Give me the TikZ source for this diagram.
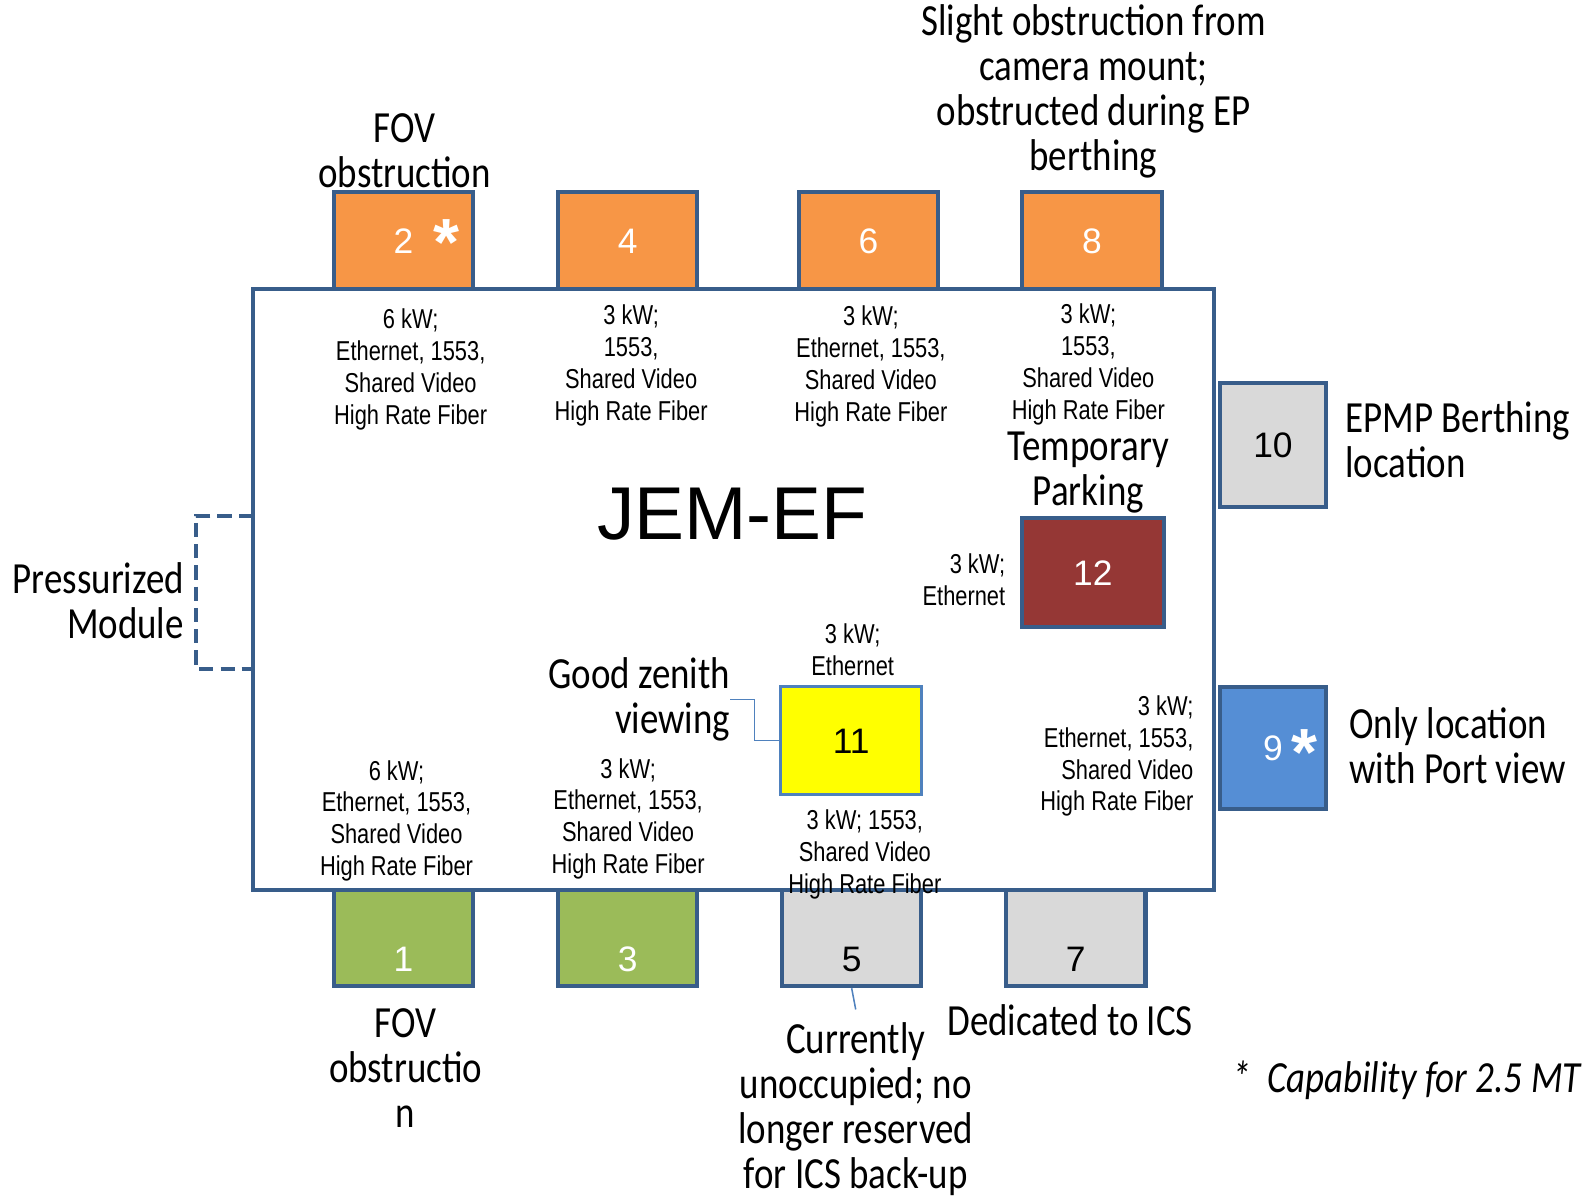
\documentclass[tikz,border=0pt]{standalone}
\usepackage{fontspec}
\usepackage{xcolor}
\usepackage{tikz}
\usetikzlibrary{calc}
\newfontfamily\labelfont[FakeStretch=0.83]{Carlito}
\newfontfamily\specfont[FakeStretch=0.8]{Liberation Sans}
\newfontfamily\numfont{Liberation Sans}
\definecolor{edgeblue}{HTML}{385D8A}
\definecolor{leadblue}{HTML}{4F81BD}
\definecolor{orangebay}{HTML}{F79646}
\definecolor{greenbay}{HTML}{9BBB59}
\definecolor{graybay}{HTML}{D9D9D9}
\definecolor{redbay}{HTML}{953735}
\definecolor{bluebay}{HTML}{558ED5}
\definecolor{yellowbay}{HTML}{FFFF00}
\tikzset{
  bay/.style={draw=edgeblue,line width=4pt,minimum width=138pt,inner sep=0pt,
    font=\numfont\fontsize{35}{35}\selectfont,text height=25pt,text depth=0pt},
  topbay/.style={bay,minimum height=96pt,fill=orangebay,text=white},
  lowbay/.style={bay,minimum height=95pt,text height=65pt},
  spec/.style={inner sep=0pt,align=center,yshift=-3pt,font=\specfont\fontsize{27}{31.5}\selectfont},
  callnote/.style={inner sep=0pt,align=center,yshift=-2pt,font=\labelfont\fontsize{44}{44.5}\selectfont},
  starmark/.style={inner sep=0pt,anchor=base,text=white,font=\numfont\bfseries\fontsize{66}{66}\selectfont},
  lead/.style={draw=leadblue,line width=1.5pt},
}

\begin{document}
\begin{tikzpicture}[x=1pt,y=-1pt]
  \fill[white] (0,0) rectangle (1568,1185);
  \useasboundingbox (0,0) rectangle (1568,1185);
  \node[draw=edgeblue,line width=4pt,fill=white,minimum width=950pt,minimum height=594pt,inner sep=0pt] (ef) at (725,583) {};
  \node[inner sep=0pt,font=\numfont\fontsize{74}{74}\selectfont] (efname) at (724,508) {JEM-EF};
  \draw[edgeblue,line width=4pt,dash pattern=on 14pt off 7pt] (250,510) -| (194,661) -- (250,661);

  \node[topbay] (b2) at (399,238) {2};
  \node[topbay] (b4) at (620.5,238) {4};
  \node[topbay] (b6) at (858.5,238) {6};
  \node[topbay] (b8) at (1079.5,238) {8};
  \node[lowbay,fill=greenbay,text=white] (b1) at (399,927.5) {1};
  \node[lowbay,fill=greenbay,text=white] (b3) at (620.5,927.5) {3};
  \node[lowbay,fill=graybay] (b5) at (842,927.5) {5};
  \node[lowbay,fill=graybay] (b7) at (1063.5,927.5) {7};
  \node[bay,fill=graybay,minimum width=105pt,minimum height=122pt] (b10) at (1258.5,440) {10};
  \node[bay,fill=bluebay,text=white,minimum width=105pt,minimum height=121pt] (b9) at (1258.5,739.5) {9};
  \node[bay,fill=redbay,text=white,minimum width=141pt,minimum height=108pt] (b12) at (1080.5,566) {12};
  \node[bay,draw=leadblue,line width=3pt,fill=yellowbay,minimum width=140pt,minimum height=107pt] (b11) at (841.5,732) {11};
  \node[starmark] (st2) at ([xshift=42pt,yshift=-24.6pt]b2.center) {*};
  \node[starmark] (st9) at ([xshift=31.5pt,yshift=-27pt]b9.center) {*};

  \node[spec] (s2) at (406,362.5) {6 kW;\\Ethernet, 1553,\\Shared Video\\High Rate Fiber};
  \node[spec] (s4) at (624,358.5) {3 kW;\\1553,\\Shared Video\\High Rate Fiber};
  \node[spec] (s6) at (861,359.5) {3 kW;\\Ethernet, 1553,\\Shared Video\\High Rate Fiber};
  \node[spec] (s8) at (1076,357.5) {3 kW;\\1553,\\Shared Video\\High Rate Fiber};
  \node[spec,align=right,anchor=east] (s12) at (994,570) {3 kW;\\Ethernet};
  \node[spec] (s11t) at (843,639.5) {3 kW;\\Ethernet};
  \node[spec,align=right,anchor=east] (s9) at (1180,744.5) {3 kW;\\Ethernet, 1553,\\Shared Video\\High Rate Fiber};
  \node[spec] (s11b) at (855,841.5) {3 kW; 1553,\\Shared Video\\High Rate Fiber};
  \node[spec] (s1) at (392,808.5) {6 kW;\\Ethernet, 1553,\\Shared Video\\High Rate Fiber};
  \node[spec] (s3) at (621,806.5) {3 kW;\\Ethernet, 1553,\\Shared Video\\High Rate Fiber};

  \node[callnote] (n8) at (1081,88.5) {Slight obstruction from\\camera mount;\\obstructed during EP\\berthing};
  \node[callnote] (n2) at (400,147.5) {FOV\\obstruction};
  \node[callnote] (park) at (1076,465.5) {Temporary\\Parking};
  \node[callnote,align=right,anchor=east] (zenith) at (722,689.5) {Good zenith\\viewing};
  \node[callnote,align=left,anchor=west] (n10) at (1330,432.5) {EPMP Berthing\\location};
  \node[callnote,align=left,anchor=west] (n9) at (1334,735.5) {Only location\\with Port view};
  \node[callnote,align=right,anchor=east] (pm) at (182,591.5) {Pressurized\\Module};
  \node[callnote] (n1) at (401,1054) {FOV\\obstructio\\n};
  \node[callnote] (n5) at (846,1094.5) {Currently\\unoccupied; no\\longer reserved\\for ICS back-up};
  \node[callnote] (n7) at (1058,1007) {Dedicated to ICS};
  \node[callnote,anchor=west,font=\labelfont\itshape\fontsize{44}{44.5}\selectfont] (mt) at (1218,1066) {*\ \ Capability for 2.5 MT};

  \coordinate (tip5) at (846,998);
  \draw[lead] (zenith.east) -- ++(24,0) |- (b11.west);
  \draw[lead] (b5.south) -- (tip5);
\end{tikzpicture}
\end{document}
